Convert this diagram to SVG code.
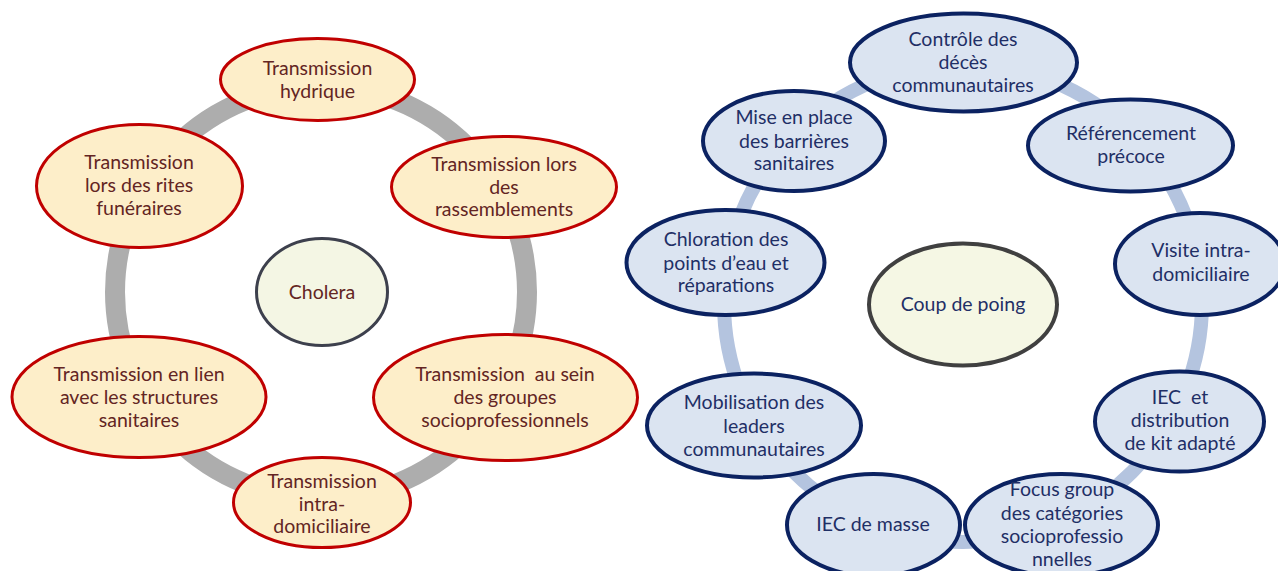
<svg xmlns="http://www.w3.org/2000/svg" width="1278" height="571" viewBox="0 0 1278 571">
<style>
  .bg { fill: #ffffff; }
  .ringL { fill: none; stroke: #adadad; stroke-width: 20; }
  .ringR { fill: none; stroke: #b4c4df; stroke-width: 14; }
  .nodeL ellipse { fill: #fdeec9; stroke: #c00000; stroke-width: 3; }
  .nodeR ellipse { fill: #dbe4f1; stroke: #0b2261; stroke-width: 4; }
  .hubL ellipse { fill: #f4f6e4; stroke: #3d404d; stroke-width: 3; }
  .hubR ellipse { fill: #f5f7e4; stroke: #404040; stroke-width: 4; }
  text { font-family: Lato, "Liberation Sans", sans-serif; font-size: 19.5px; text-anchor: middle; white-space: pre; }
  .tL { fill: #632523; }
  .tR { fill: #1f2f66; }
</style>
<rect class="bg" x="0" y="0" width="1278" height="571"/>
<g id="connectors">
  <circle class="ringL" cx="321" cy="292" r="206"/>
  <circle class="ringR" cx="963" cy="303" r="239"/>
</g>
<!-- Left cycle -->
<g id="cholera" class="hubL">
  <ellipse cx="322" cy="292" rx="65.5" ry="53.5"/>
  <text class="tL" x="322" y="299">Cholera</text>
</g>
<g id="t-hydrique" class="nodeL">
  <ellipse cx="317.5" cy="79.5" rx="97" ry="41"/>
  <text class="tL" x="317.5" y="74.5">Transmission</text>
  <text class="tL" x="317.5" y="97.5">hydrique</text>
</g>
<g id="t-rites" class="nodeL">
  <ellipse cx="139.5" cy="186" rx="103" ry="61.5"/>
  <text class="tL" x="139" y="169">Transmission</text>
  <text class="tL" x="139" y="192">lors des rites</text>
  <text class="tL" x="139" y="214.5">funéraires</text>
</g>
<g id="t-rassemblements" class="nodeL">
  <ellipse cx="504" cy="187" rx="112.5" ry="50.5"/>
  <text class="tL" x="504" y="170.5">Transmission lors</text>
  <text class="tL" x="504" y="193.5">des</text>
  <text class="tL" x="504" y="216">rassemblements</text>
</g>
<g id="t-structures" class="nodeL">
  <ellipse cx="139" cy="397" rx="127" ry="60.5"/>
  <text class="tL" x="139" y="381">Transmission en lien</text>
  <text class="tL" x="139" y="404">avec les structures</text>
  <text class="tL" x="139" y="426.5">sanitaires</text>
</g>
<g id="t-socioprof" class="nodeL">
  <ellipse cx="505.5" cy="397.5" rx="132" ry="63"/>
  <text class="tL" x="505" y="381">Transmission  au sein</text>
  <text class="tL" x="505" y="404">des groupes</text>
  <text class="tL" x="505" y="426.5">socioprofessionnels</text>
</g>
<g id="t-intra" class="nodeL">
  <ellipse cx="322" cy="502.5" rx="88.5" ry="45"/>
  <text class="tL" x="322" y="487.5">Transmission</text>
  <text class="tL" x="322" y="510.5">intra-</text>
  <text class="tL" x="322" y="533">domiciliaire</text>
</g>
<!-- Right cycle -->
<g id="coup-de-poing" class="hubR">
  <ellipse cx="963" cy="304.5" rx="94" ry="61"/>
  <text class="tR" x="963" y="311">Coup de poing</text>
</g>
<g id="controle" class="nodeR">
  <ellipse cx="963.5" cy="62.5" rx="113.5" ry="49"/>
  <text class="tR" x="963" y="45.5">Contrôle des</text>
  <text class="tR" x="963" y="69">décès</text>
  <text class="tR" x="963" y="92">communautaires</text>
</g>
<g id="barrieres" class="nodeR">
  <ellipse cx="794" cy="141" rx="91" ry="50"/>
  <text class="tR" x="794" y="124">Mise en place</text>
  <text class="tR" x="794" y="147.5">des barrières</text>
  <text class="tR" x="794" y="169.5">sanitaires</text>
</g>
<g id="referencement" class="nodeR">
  <ellipse cx="1130.5" cy="145.5" rx="102.5" ry="46"/>
  <text class="tR" x="1131" y="139.5">Référencement</text>
  <text class="tR" x="1131" y="163">précoce</text>
</g>
<g id="chloration" class="nodeR">
  <ellipse cx="725.5" cy="262.5" rx="99" ry="52.5"/>
  <text class="tR" x="726" y="246">Chloration des</text>
  <text class="tR" x="726" y="269.5">points d’eau et</text>
  <text class="tR" x="726" y="292">réparations</text>
</g>
<g id="visite" class="nodeR">
  <ellipse cx="1200" cy="264" rx="85" ry="51"/>
  <text class="tR" x="1201" y="257">Visite intra-</text>
  <text class="tR" x="1201" y="280.5">domiciliaire</text>
</g>
<g id="mobilisation" class="nodeR">
  <ellipse cx="754" cy="425.5" rx="107" ry="52"/>
  <text class="tR" x="754" y="409">Mobilisation des</text>
  <text class="tR" x="754" y="432.5">leaders</text>
  <text class="tR" x="754" y="455.5">communautaires</text>
</g>
<g id="iec-kit" class="nodeR">
  <ellipse cx="1179.5" cy="421.5" rx="84.5" ry="50"/>
  <text class="tR" x="1180" y="403.5">IEC  et</text>
  <text class="tR" x="1180" y="427">distribution</text>
  <text class="tR" x="1180" y="450">de kit adapté</text>
</g>
<g id="iec-masse" class="nodeR">
  <ellipse cx="873.5" cy="525" rx="86.5" ry="51"/>
  <text class="tR" x="873" y="531">IEC de masse</text>
</g>
<g id="focus" class="nodeR">
  <ellipse cx="1061.5" cy="525" rx="96.5" ry="51"/>
  <text class="tR" x="1062" y="496">Focus group</text>
  <text class="tR" x="1062" y="520">des catégories</text>
  <text class="tR" x="1062" y="543">socioprofessio</text>
  <text class="tR" x="1062" y="566">nnelles</text>
</g>
</svg>
